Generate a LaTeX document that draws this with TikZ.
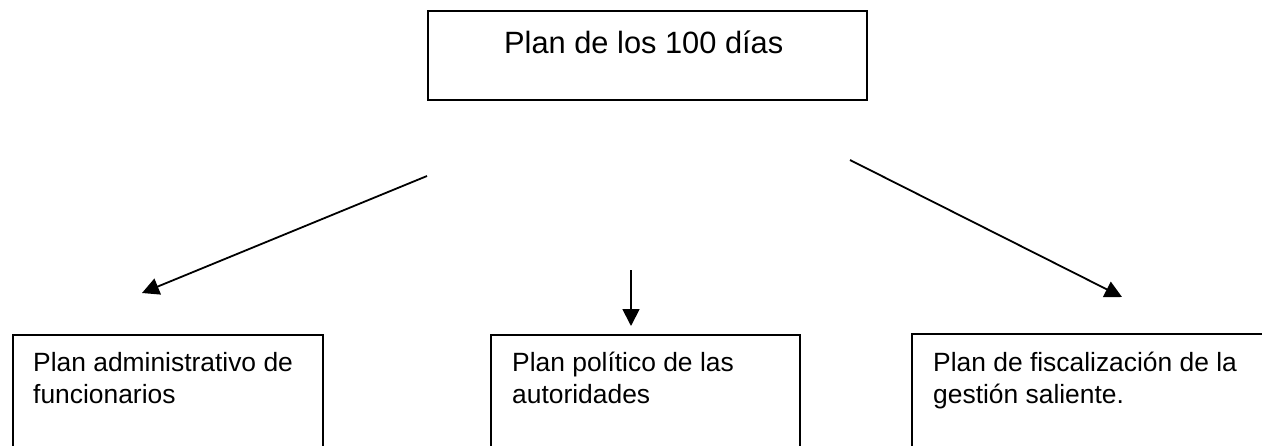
\documentclass[tikz,border=0pt]{standalone}
\usepackage{fontspec}
\setmainfont{Liberation Sans}
\usetikzlibrary{arrows.meta}
\begin{document}
\begin{tikzpicture}[x=1pt,y=1pt,
  box/.style={draw=black, line width=1.5pt, rectangle, inner sep=0pt, anchor=north west},
  titletext/.style={inner sep=0pt, anchor=base west, font=\fontsize{30.8}{36}\selectfont},
  bodytext/.style={inner sep=0pt, anchor=north west, align=left, font=\fontsize{26.4}{32}\selectfont},
  conn/.style={line width=1.8pt, -{Triangle[length=17pt,width=17pt]}}]
\useasboundingbox (0,0) rectangle (1262,-445);
\clip (0,0) rectangle (1262,-445);
% top box
\node[box, minimum width=439pt, minimum height=89pt] (top) at (427,-10) {};
\node[titletext] (toptext) at (504,-53) {Plan de los 100 días};
% bottom boxes
\node[box, minimum width=310pt, minimum height=140pt] (left) at (12,-334) {};
\node[box, minimum width=309pt, minimum height=140pt] (mid) at (490,-334) {};
\node[box, minimum width=380pt, minimum height=140pt] (right) at (911,-333) {};
\node[bodytext] (lefttext) at (33,-351) {\rule{0pt}{20pt}Plan administrativo de\\funcionarios};
\node[bodytext] (midtext) at (512,-351) {\rule{0pt}{20pt}Plan político de las\\autoridades};
\node[bodytext] (righttext) at (933,-351) {\rule{0pt}{20pt}Plan de fiscalización de la\\gestión saliente.};
% arrows
\coordinate (a1s) at (427,-176);
\coordinate (a1e) at (142,-293);
\coordinate (a2s) at (631,-270);
\coordinate (a2e) at (631,-326);
\coordinate (a3s) at (850,-160);
\coordinate (a3e) at (1122,-297);
\draw[conn] (a1s) -- (a1e);
\draw[conn] (a2s) -- (a2e);
\draw[conn] (a3s) -- (a3e);
\end{tikzpicture}
\end{document}
